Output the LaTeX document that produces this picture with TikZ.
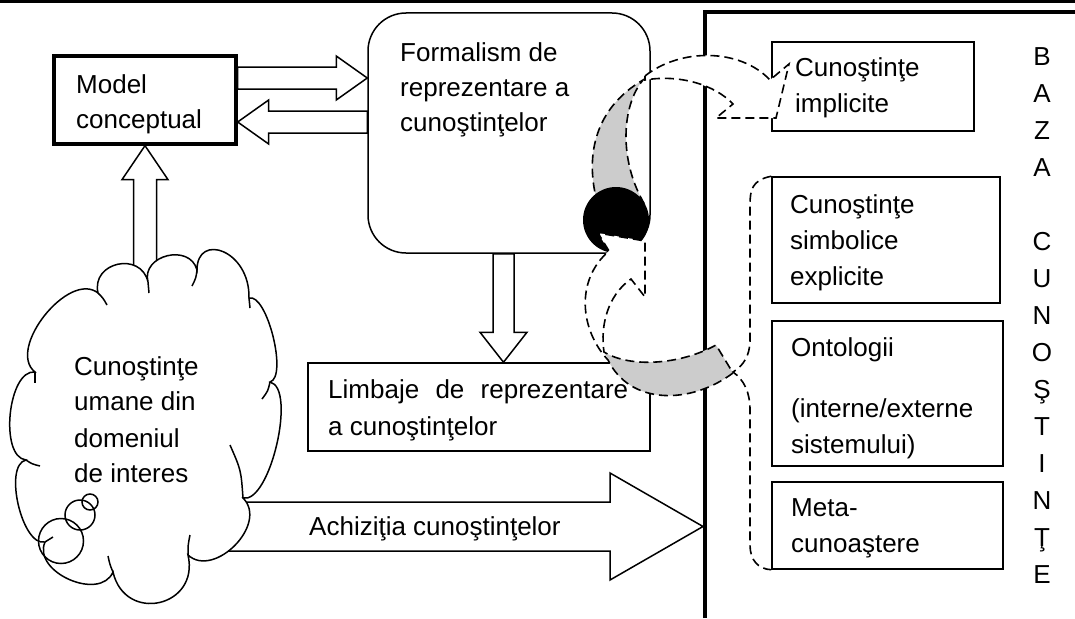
\documentclass[tikz,border=0pt]{standalone}
\usepackage{fontspec}
\setmainfont{Liberation Sans}
\usetikzlibrary{calc}
\pgfdeclarelayer{back}
\pgfsetlayers{back,main}
\newcommand\labelfont{\fontsize{26}{31}\selectfont}
% block arrow: #1 tail, #2 tip, #3 half shaft width, #4 half head width, #5 head length
\newcommand\blockarrow[5]{%
  \coordinate (baneck) at ($(#2)!#5!(#1)$);
  \path[blockline]
    ($(#1)!#3!90:(#2)$) -- ($(baneck)!#3!90:(#2)$) -- ($(baneck)!#4!90:(#2)$)
    -- (#2) -- ($(baneck)!#4!270:(#2)$) -- ($(baneck)!#3!270:(#2)$)
    -- ($(#1)!#3!270:(#2)$) -- cycle;}

\begin{document}
\begin{tikzpicture}[x=1pt, y=-1pt,
  box/.style={draw, line width=1.5pt, inner sep=0pt},
  lbl/.style={font=\labelfont, inner sep=0pt, anchor=base west},
  blockline/.style={draw, fill=white, line width=1.5pt, line join=miter},
  dashedge/.style={line width=1.6pt, dash pattern=on 9pt off 5pt},
  backface/.style={fill=black!20},
  cloudline/.style={line width=1.5pt},
]
\useasboundingbox (0,0) rectangle (1075,618);

% rule along the top
\draw[line width=3pt] (0,1.5) -- (1075,1.5);

% boxes
\node[box, line width=3.3pt, minimum width=182pt, minimum height=88pt] (model) at (145,100) {};
\node[box, rounded corners=38pt, minimum width=282pt, minimum height=240pt] (form) at (509,133) {};
\node[box, minimum width=342pt, minimum height=88pt] (limb) at (479,407) {};
\node[box, minimum width=202pt, minimum height=89pt] (impl) at (873,86.5) {};
\node[box, minimum width=228pt, minimum height=126pt] (simb) at (886,240) {};
\node[box, minimum width=231pt, minimum height=145pt] (onto) at (887.5,393.5) {};
\node[box, minimum width=231pt, minimum height=87pt] (meta) at (887.5,525.5) {};

% arrow end points
\coordinate (a1t) at ($(model.east)+(0,-22)$);
\coordinate (a1h) at (form.west |- a1t);
\coordinate (a2t) at ($(form.west)+(0,-11)$);
\coordinate (a2h) at (model.east |- a2t);
\coordinate (cloudtop) at (145,290);
\coordinate (a4t) at ($(form.south)+(-5.5,0)$);
\coordinate (a4h) at (limb.north -| a4t);
\coordinate (acqt) at (200,526.5);
\coordinate (acqh) at (703,526.5);

% block arrows sit behind boxes and cloud
\begin{pgfonlayer}{back}
  \blockarrow{a1t}{a1h}{11pt}{22pt}{31pt}
  \blockarrow{a2t}{a2h}{11pt}{22pt}{31pt}
  \blockarrow{cloudtop}{model.south}{11.5pt}{23pt}{34pt}
  \blockarrow{a4t}{a4h}{10.5pt}{23.5pt}{30pt}
  \blockarrow{acqt}{acqh}{24.5pt}{53.5pt}{93pt}
\end{pgfonlayer}

% cloud of human knowledge
\draw[cloudline, fill=white] (98,293)
  .. controls (91,262) and (141,251) .. (148,282)
  .. controls (141,255) and (190,243) .. (197,270)
  .. controls (197,232) and (250,250) .. (249,298)
  .. controls (267,293) and (288,377) .. (270,382)
  .. controls (297,388) and (270,504) .. (243,498)
  .. controls (269,524) and (214,579) .. (188,555)
  .. controls (200,607) and (125,624) .. (113,572)
  .. controls (100,602) and (32,572) .. (45,542)
  .. controls (22,547) and (3,465) .. (26,460)
  .. controls (-1,457) and (8,369) .. (35,372)
  .. controls (6,349) and (69,270) .. (98,293) -- cycle;
% inner puff arcs
\draw[cloudline] (148,282) .. controls (149,287) .. (149,293);
\draw[cloudline] (197,270) .. controls (196,278) .. (192,286);
\draw[cloudline] (249,298) .. controls (250,303) .. (250,308);
\draw[cloudline] (270,382) .. controls (268,391) .. (262,399);
\draw[cloudline] (243,498) .. controls (241,470) .. (230,445);
\draw[cloudline] (188,555) .. controls (188,545) .. (190,535);
\draw[cloudline] (113,572) .. controls (110,565) .. (108,556);
\draw[cloudline] (45,542) .. controls (49,539) .. (53,537);
\draw[cloudline] (26,460) .. controls (32,464) .. (40,466);
\draw[cloudline] (35,372) .. controls (35,378) .. (35,383);
\draw[cloudline] (98,293) .. controls (103,298) .. (107,305);
% thought bubbles
\draw[cloudline] (90,502) circle[radius=8pt];
\draw[cloudline] (80,515) circle[radius=15pt];
\draw[cloudline] (61,541) circle[radius=22.5pt];

% knowledge base frame
\draw[line width=4.5pt, line join=miter] (705,618) -- (705,12) -- (1075,12);

% upper curved arrow: shaded back face rising from the ball
\path[backface] (598,205) .. controls (585,160) and (592,110) .. (643,80)
  .. controls (622,105) and (618,160) .. (645,205) -- cycle;
\draw[dashedge] (598,205) .. controls (585,160) and (592,110) .. (643,80)
  .. controls (622,105) and (618,160) .. (645,205);
% upper curved arrow: front face and head
\draw[dashedge, fill=white] (645,76) .. controls (680,48) and (740,48) .. (770,80)
  -- (789,64) -- (776,118) -- (716,118) -- (733,104)
  .. controls (715,85) and (680,74) .. (645,80) -- cycle;

% ball
\fill (616,220) circle[radius=33pt];

% lower curved arrow: shaded tail part and white rising part
\path[backface] (604,352) .. controls (630,368) and (680,365) .. (716,345) -- (733,373)
  .. controls (690,405) and (630,405) .. (608,360) -- cycle;
\path[fill=white] (608,360) .. controls (580,330) and (575,280) .. (609,251)
  -- (598,233) -- (645,241) -- (645,297) -- (631,279)
  .. controls (608,295) and (600,325) .. (604,352) -- cycle;
\draw[dashedge] (733,373) .. controls (690,405) and (630,405) .. (608,360)
  .. controls (580,330) and (575,280) .. (609,251)
  -- (598,233) -- (645,241) -- (645,297) -- (631,279)
  .. controls (608,295) and (600,325) .. (604,352)
  .. controls (630,368) and (680,365) .. (716,345) -- cycle;

% brace around the explicit knowledge boxes
\coordinate (bracetip) at (733,372);
\draw[dashedge] (simb.north west) .. controls (752,180) and (750,190) .. (750,205) -- (750,340)
  .. controls (750,356) and (743,366) .. (bracetip)
  .. controls (744,380) and (750,392) .. (750,410) -- (750,545)
  .. controls (750,560) and (758,569) .. (meta.south west);

% labels
\node[lbl] (model-1) at (76,93) {Model};
\node[lbl] (model-2) at (76,128) {conceptual};
\node[lbl] (form-1) at (400,61) {Formalism de};
\node[lbl] (form-2) at (400,96) {reprezentare a};
\node[lbl] (form-3) at (400,131) {cunoştinţelor};
\node[lbl] (limb-1) at (328,398) {\makebox[300pt][s]{Limbaje de reprezentare}};
\node[lbl] (limb-2) at (328,435) {a cunoştinţelor};
\node[lbl] (cloud-1) at (74,375) {Cunoştinţe};
\node[lbl] (cloud-2) at (74,410) {umane din};
\node[lbl] (cloud-3) at (74,447) {domeniul};
\node[lbl] (cloud-4) at (74,482) {de interes};
\node[lbl] (acq) at (309,535) {Achiziţia cunoştinţelor};
\node[lbl] (impl-1) at (795,76) {Cunoştinţe};
\node[lbl] (impl-2) at (795,112) {implicite};
\node[lbl] (simb-1) at (790,213) {Cunoştinţe};
\node[lbl] (simb-2) at (790,249) {simbolice};
\node[lbl] (simb-3) at (790,285) {explicite};
\node[lbl] (onto-1) at (791,356) {Ontologii};
\node[lbl] (onto-2) at (791,417) {(interne/externe};
\node[lbl] (onto-3) at (791,453) {sistemului)};
\node[lbl] (meta-1) at (791,516) {Meta-};
\node[lbl] (meta-2) at (791,552) {cunoaştere};
% vertical title
\foreach \ch/\yy [count=\k] in {B/65, A/102, Z/139, A/176, C/250, U/287, N/324, O/361,
    Ş/398, T/435, I/472, N/509, Ţ/546, E/583}
  \node[lbl, anchor=base] (kb-\k) at (1042,\yy) {\ch};
\end{tikzpicture}
\end{document}
